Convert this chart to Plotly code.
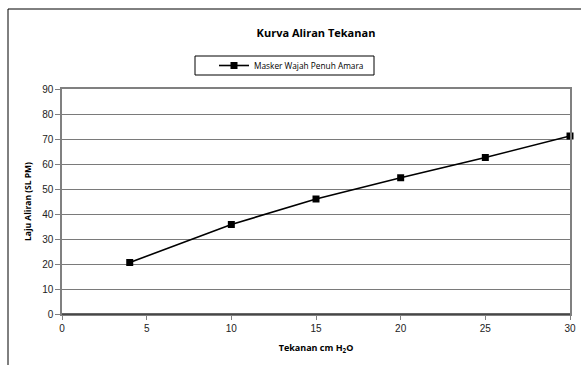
import plotly.graph_objects as go

pressure = [4, 10, 15, 20, 25, 30]
flow = [20.6, 35.8, 46.0, 54.5, 62.6, 71.2]
series_name = "Masker Wajah Penuh Amara"
title_text = "Kurva Aliran Tekanan"
x_title = "Tekanan cm H<sub>2</sub>O"
y_title = "Laju Aliran (SL PM)"

L, R, T, B = 62, 11, 89, 51
W, H = 581, 365
pw, ph = W - L - R, H - T - B

def px_x(p):
    return (p - L) / pw

def px_y(p):
    return (H - B - p) / ph

fig = go.Figure()
fig.add_trace(go.Scatter(
    x=pressure, y=flow, mode="lines+markers", name=series_name,
    line=dict(color="black", width=1.6),
    marker=dict(symbol="square", size=7, color="black"),
    cliponaxis=False,
))

fig.update_layout(
    width=W, height=H,
    margin=dict(l=L, r=R, t=T, b=B, autoexpand=False),
    paper_bgcolor="white", plot_bgcolor="white",
    font=dict(family="Liberation Sans, Arial", size=9, color="black"),
    title=dict(text="<b>" + title_text + "</b>", x=316 / W, xanchor="center",
               y=1 - 33 / H, yanchor="middle",
               font=dict(family="Open Sans", size=11, color="black")),
    showlegend=True,
    legend=dict(
        x=px_x(214), xanchor="left", y=px_y(51), yanchor="top",
        orientation="h", borderwidth=0,
        bgcolor="rgba(0,0,0,0)", font=dict(family="Open Sans", size=8.3, color="black"),
        itemwidth=30,
    ),
    xaxis=dict(
        range=[0, 30], tickvals=[0, 5, 10, 15, 20, 25, 30],
        showgrid=False, zeroline=False, automargin=False,
        showline=True, linecolor="#808080", linewidth=1.5, mirror=True,
        ticks="outside", ticklen=4, tickcolor="#808080",
        tickfont=dict(family="Liberation Sans, Arial", size=10, color="#222"),
        title=dict(text="<b>" + x_title + "</b>", standoff=12,
                   font=dict(family="Open Sans", size=9, color="black")),
    ),
    yaxis=dict(
        range=[0, 90], tickvals=list(range(0, 91, 10)),
        showgrid=True, gridcolor="#7a7a7a", gridwidth=1.3,
        zeroline=False, automargin=False,
        showline=True, linecolor="#808080", linewidth=1.5, mirror=True,
        ticks="outside", ticklen=5, tickcolor="#808080",
        tickfont=dict(family="Liberation Sans, Arial", size=10, color="#222"),
        title=dict(text="<b>" + y_title + "</b>", standoff=9,
                   font=dict(family="Open Sans", size=8.5, color="black")),
    ),
    shapes=[
        dict(type="rect", xref="paper", yref="paper",
             x0=px_x(8), x1=px_x(W + 20),
             y0=px_y(H + 20), y1=px_y(9),
             line=dict(color="black", width=1), layer="below"),
        dict(type="rect", xref="paper", yref="paper",
             x0=px_x(195), x1=px_x(374), y0=px_y(75), y1=px_y(56),
             line=dict(color="black", width=1), layer="below"),
        dict(type="line", xref="paper", yref="paper", x0=0, x1=1, y0=0, y1=0,
             line=dict(color="#333", width=1.5)),
    ],
)

fig.write_html("out.html", config={"displayModeBar": False},
               post_script="document.body.style.margin='0';document.body.style.overflow='hidden';")
